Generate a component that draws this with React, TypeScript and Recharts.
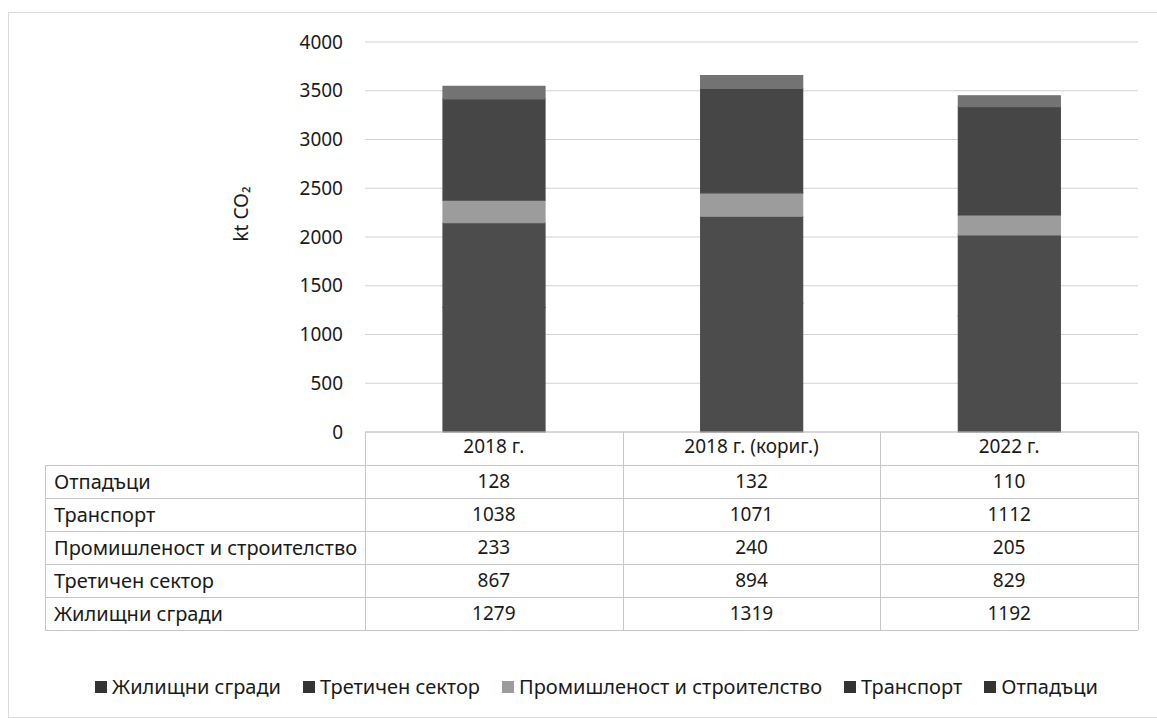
import React from "react";
import { Bar, BarChart, CartesianGrid, XAxis, YAxis } from "recharts";

const years = ["2018 г.", "2018 г. (кориг.)", "2022 г."];
const residential = [1279, 1319, 1192];
const tertiary = [867, 894, 829];
const industry = [233, 240, 205];
const transport = [1038, 1071, 1112];
const waste = [128, 132, 110];
const yTicks = [0, 500, 1000, 1500, 2000, 2500, 3000, 3500, 4000];

// stack order, bottom to top
const series = [
  { key: "residential", name: "Жилищни сгради", values: residential, color: "#4c4c4c" },
  { key: "tertiary", name: "Третичен сектор", values: tertiary, color: "#4c4c4c" },
  { key: "industry", name: "Промишленост и строителство", values: industry, color: "#9c9c9c" },
  { key: "transport", name: "Транспорт", values: transport, color: "#464646" },
  { key: "waste", name: "Отпадъци", values: waste, color: "#737373" },
];

const data = years.map((year, i) => {
  const row: Record<string, string | number> = { year };
  series.forEach((s) => (row[s.key] = s.values[i]));
  return row;
});

const W = 1157;
const H = 718;
const PLOT_LEFT = 365;
const PLOT_RIGHT = 1138;
const PLOT_TOP = 42;
const PLOT_BOTTOM = 432;
const X_AXIS_H = 33;
const TABLE_LEFT = 45;
const ROW_H = 33;

const font = '"Noto Sans", sans-serif';
const ink = "#1a1a1a";
const rule = "#c6c6c6";

function YLabel() {
  return (
    <text
      x={241}
      y={214}
      transform="rotate(-90 241 214)"
      textAnchor="middle"
      dominantBaseline="central"
      fontSize={19}
      fontFamily={font}
      fill={ink}
    >
      kt CO₂
    </text>
  );
}

function DataTable() {
  const band = (PLOT_RIGHT - PLOT_LEFT) / years.length;
  const rows = [...series].reverse();
  const cell: React.CSSProperties = {
    position: "absolute",
    height: ROW_H,
    lineHeight: `${ROW_H}px`,
    fontSize: 19,
    color: ink,
    whiteSpace: "nowrap",
  };
  return (
    <>
      {rows.map((s, r) => {
        const top = PLOT_BOTTOM + X_AXIS_H + r * ROW_H;
        return (
          <React.Fragment key={s.key}>
            <div style={{ ...cell, left: TABLE_LEFT + 9, top, fontSize: 20 }}>{s.name}</div>
            {s.values.map((v, c) => (
              <div
                key={c}
                style={{ ...cell, left: PLOT_LEFT + c * band, width: band, top, textAlign: "center" }}
              >
                {v}
              </div>
            ))}
            <div
              style={{
                position: "absolute",
                left: TABLE_LEFT,
                top,
                width: PLOT_RIGHT - TABLE_LEFT,
                height: 1,
                background: rule,
              }}
            />
          </React.Fragment>
        );
      })}
      <div
        style={{
          position: "absolute",
          left: TABLE_LEFT,
          top: PLOT_BOTTOM + X_AXIS_H + rows.length * ROW_H,
          width: PLOT_RIGHT - TABLE_LEFT,
          height: 1,
          background: rule,
        }}
      />
      <div
        style={{
          position: "absolute",
          left: TABLE_LEFT,
          top: PLOT_BOTTOM + X_AXIS_H,
          width: 1,
          height: rows.length * ROW_H,
          background: rule,
        }}
      />
      {[0, 1, 2, 3].map((k) => (
        <div
          key={k}
          style={{
            position: "absolute",
            left: PLOT_LEFT + k * band,
            top: PLOT_BOTTOM,
            width: 1,
            height: X_AXIS_H + rows.length * ROW_H,
            background: rule,
          }}
        />
      ))}
    </>
  );
}

function LegendRow() {
  return (
    <div
      style={{
        position: "absolute",
        left: 0,
        top: 673,
        width: W + 36,
        display: "flex",
        justifyContent: "center",
        gap: 22,
        fontSize: 20,
        color: ink,
      }}
    >
      {series.map((s) => (
        <div key={s.key} style={{ display: "flex", alignItems: "center", gap: 5 }}>
          <span
            style={{
              display: "inline-block",
              width: 12,
              height: 12,
              background: s.key === "industry" ? s.color : "#333",
            }}
          />
          <span>{s.name}</span>
        </div>
      ))}
    </div>
  );
}

export default function App() {
  return (
    <div
      style={{
        position: "absolute",
        left: 0,
        top: 0,
        width: W,
        height: H,
        background: "#fff",
        fontFamily: font,
        overflow: "hidden",
      }}
    >
      <div
        style={{
          position: "absolute",
          left: 8,
          top: 12,
          width: W,
          height: 704,
          border: "1px solid #dcdcdc",
        }}
      />
      <div style={{ position: "absolute", left: 0, top: 0 }}>
        <BarChart
          width={W}
          height={H}
          data={data}
          margin={{ top: PLOT_TOP, right: W - PLOT_RIGHT, bottom: H - PLOT_BOTTOM - X_AXIS_H, left: 0 }}
        >
          <CartesianGrid horizontal vertical={false} stroke="#d2d2d2" />
          <XAxis
            dataKey="year"
            height={X_AXIS_H}
            axisLine={{ stroke: rule }}
            tickLine={false}
            tickSize={0}
            tickMargin={8}
            tick={{ fontSize: 19, fill: ink, fontFamily: font }}
          />
          <YAxis
            width={PLOT_LEFT}
            domain={[0, 4000]}
            ticks={yTicks}
            axisLine={false}
            tickLine={false}
            tickSize={0}
            tickMargin={22}
            tick={{ fontSize: 19, fill: ink, fontFamily: font }}
            label={<YLabel />}
          />
          {series.map((s) => (
            <Bar
              key={s.key}
              dataKey={s.key}
              name={s.name}
              stackId="total"
              fill={s.color}
              stroke={s.color}
              strokeWidth={1.2}
              barSize={102}
              isAnimationActive={false}
            />
          ))}
        </BarChart>
      </div>
      <DataTable />
      <LegendRow />
    </div>
  );
}
